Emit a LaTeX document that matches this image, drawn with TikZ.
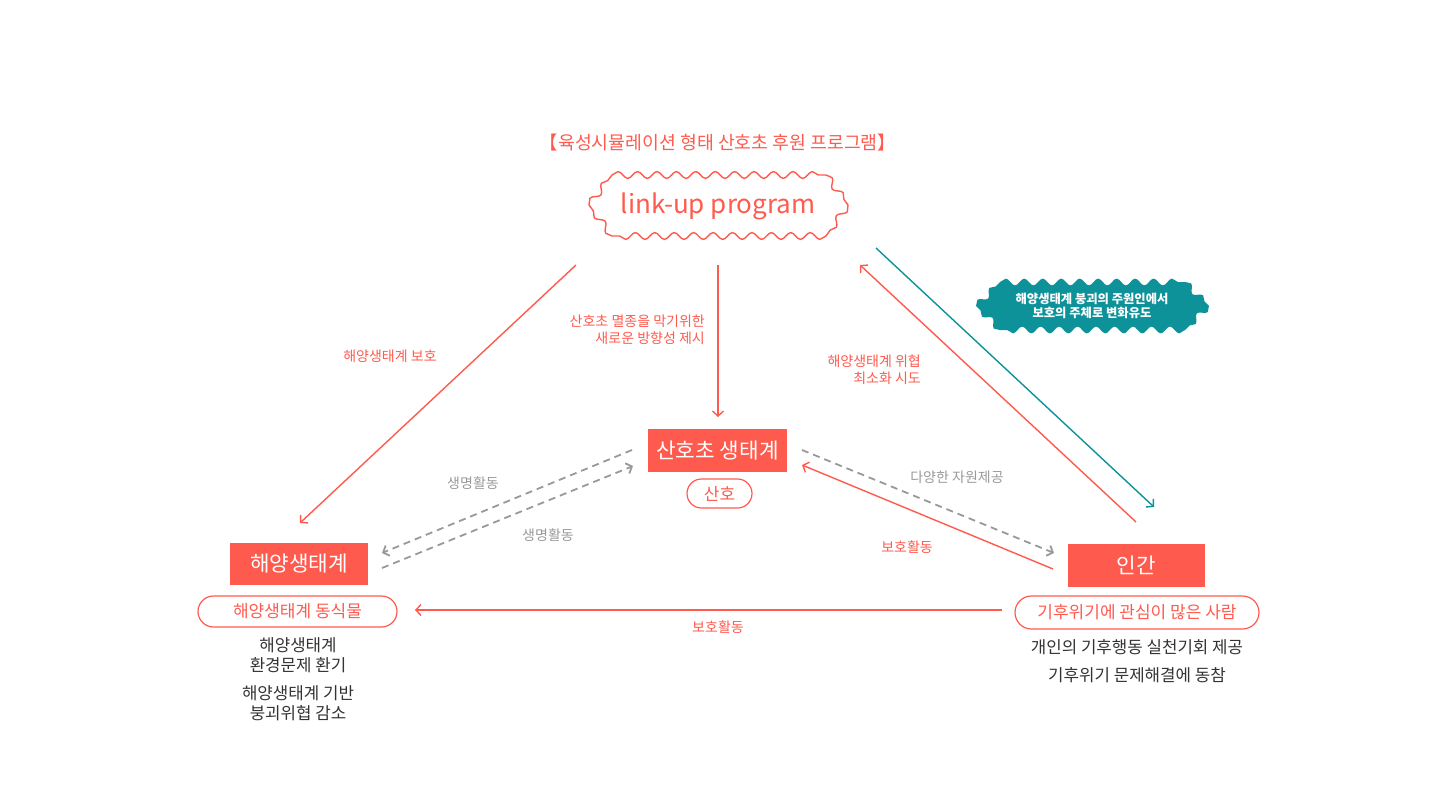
\documentclass[tikz,border=0pt]{standalone}
\usepackage{fontspec}
\setmainfont{Noto Sans CJK KR}
\usetikzlibrary{arrows.meta,decorations.pathmorphing}
\definecolor{cred}{HTML}{FF5A4E}
\definecolor{cteal}{HTML}{0E9299}
\definecolor{cgray}{HTML}{999999}
\definecolor{cdark}{HTML}{333333}
\begin{document}
\begin{tikzpicture}[x=1pt,y=-1pt,
  redbox/.style={fill=cred,text=white,inner sep=0pt,font=\fontsize{21.3}{25}\selectfont},
  pill/.style={draw=cred,line width=1.2pt,text=cred,inner sep=0pt,font=\fontsize{17}{20}\selectfont},
  lbl/.style={font=\fontsize{14}{17}\selectfont,inner sep=0pt},
  darktxt/.style={text=cdark,font=\fontsize{16.8}{20}\selectfont,inner sep=0pt,align=center},
  redline/.style={draw=cred,line width=1.4pt},
  tealline/.style={draw=cteal,line width=1.4pt},
  dashline/.style={draw=cgray,line width=1.8pt,dash pattern=on 7pt off 5pt},
  tipend/.style={-{Straight Barb[length=5pt,width=11pt]}},
  wv/.style={decoration={snake,amplitude=3.4pt,segment length=#1}}
]
\useasboundingbox (0,0) rectangle (1440,800);

% title
\node[text=cred,font=\fontsize{18.3}{22}\selectfont,inner sep=0pt] (title) at (718,143) {【육성시뮬레이션 형태 산호초 후원 프로그램】};

% link-up cloud
\draw[cred,line width=1.4pt,line join=round]
  (589,205) decorate[wv=18.88pt] {-- (612,175)}
  decorate[wv=19.43pt] {-- (826,175)}
  decorate[wv=18.58pt] {-- (848,205)}
  decorate[wv=18.98pt] {-- (826,236)}
  decorate[wv=19.43pt] {-- (612,236)}
  decorate[wv=19.28pt] {-- (589,205)} -- cycle;
\node[text=cred,font=\fontsize{26}{30}\selectfont,inner sep=0pt] (link) at (718,206) {link-up program};

% teal cloud
\fill[cteal]
  (976,306) decorate[wv=16.95pt] {-- (1000,282)}
  decorate[wv=18.48pt] {-- (1185,282)}
  decorate[wv=16.95pt] {-- (1209,306)}
  decorate[wv=16.95pt] {-- (1185,330)}
  decorate[wv=18.48pt] {-- (1000,330)}
  decorate[wv=16.95pt] {-- (976,306)} -- cycle;
\node[text=white,font=\fontsize{12.3}{14.5}\selectfont\bfseries,align=center,inner sep=0pt] (teal) at (1092,306) {해양생태계 붕괴의 주원인에서\\보호의 주체로 변화유도};

% main boxes
\node[redbox,minimum width=139pt,minimum height=43pt] (coral) at (717.5,450.5) {산호초 생태계};
\node[pill,minimum width=65pt,minimum height=29pt,rounded corners=14.5pt] (coralpill) at (719.5,493.5) {산호};

\node[redbox,minimum width=138pt,minimum height=42pt] (sea) at (299,564) {해양생태계};
\node[pill,minimum width=199pt,minimum height=31pt,rounded corners=15.5pt] (seapill) at (297.5,611.5) {해양생태계 동식물};
\node[darktxt] (seat1) at (298,655) {해양생태계\\환경문제 환기};
\node[darktxt] (seat2) at (298,703) {해양생태계 기반\\붕괴위협 감소};

\node[redbox,minimum width=137pt,minimum height=43pt] (human) at (1136.5,565.5) {인간};
\node[pill,minimum width=244pt,minimum height=33pt,rounded corners=16.5pt] (humanpill) at (1137,612.5) {기후위기에 관심이 많은 사람};
\node[darktxt] (humt1) at (1137,647) {개인의 기후행동 실천기회 제공};
\node[darktxt] (humt2) at (1137,675) {기후위기 문제해결에 동참};

% connector end points
\coordinate (a1) at (576,265);
\coordinate (a2) at (300,523);
\coordinate (b1) at (718,265);
\coordinate (b2) at (718,417);
\coordinate (c1) at (1136,522);
\coordinate (c2) at (860,265);
\coordinate (d1) at (876,248);
\coordinate (d2) at (1154,507);
\coordinate (e1) at (632,450);
\coordinate (e2) at (382,553);
\coordinate (f1) at (382,568);
\coordinate (f2) at (633,466);
\coordinate (g1) at (802,450);
\coordinate (g2) at (1054,553);
\coordinate (h1) at (1053,569);
\coordinate (h2) at (802,465);
\coordinate (k1) at (1002,610);
\coordinate (k2) at (415,610);

\draw[redline,tipend] (a1) -- (a2);
\draw[redline,tipend] (b1) -- (b2);
\draw[redline,tipend] (c1) -- (c2);
\draw[tealline,tipend] (d1) -- (d2);
\draw[dashline,tipend] (e1) -- (e2);
\draw[dashline,tipend] (f1) -- (f2);
\draw[dashline,tipend] (g1) -- (g2);
\draw[redline,tipend] (h1) -- (h2);
\draw[redline,tipend] (k1) -- (k2);

% labels
\node[lbl,text=cred] (la) at (390,356) {해양생태계 보호};
\node[lbl,text=cred,align=right,anchor=east] (lb) at (705,330) {산호초 멸종을 막기위한\\새로운 방향성 제시};
\node[lbl,text=cred,align=right,anchor=east] (lc) at (921,369.5) {해양생태계 위협\\최소화 시도};
\node[lbl,text=cgray] (le) at (473,483) {생명활동};
\node[lbl,text=cgray] (lf) at (548,535) {생명활동};
\node[lbl,text=cgray] (lg) at (957,477) {다양한 자원제공};
\node[lbl,text=cred] (lh) at (907,547) {보호활동};
\node[lbl,text=cred] (lk) at (718,627) {보호활동};
\end{tikzpicture}
\end{document}
